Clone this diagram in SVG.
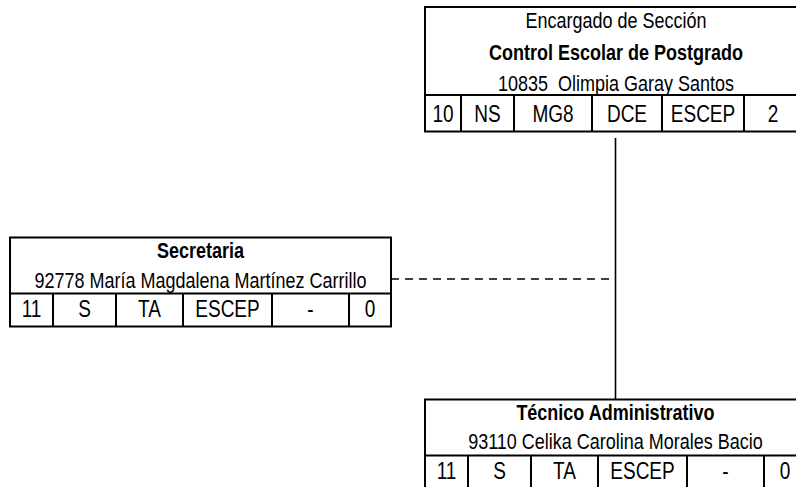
<svg xmlns="http://www.w3.org/2000/svg" width="796" height="487" viewBox="0 0 796 487">
<style>
.box{fill:#fff;stroke:#000;stroke-width:2}
.ln{stroke:#000;stroke-width:2;fill:none}
.t{font-family:"Liberation Sans",Arial,sans-serif;font-size:18px;fill:#000;text-anchor:middle}
.c{font-size:19px}
.b{font-weight:bold}
.con{stroke:#000;stroke-width:1.6;fill:none}
.dash{stroke-dasharray:8 6}
</style>
<rect width="796" height="487" fill="#fff"/>
<g id="connectors">
<line class="con" x1="615.5" y1="138" x2="615.5" y2="399"/>
<line class="con dash" x1="391" y1="279" x2="615.5" y2="279"/>
</g>
<g id="encargado">
<rect class="box" x="425" y="7" width="381" height="124.5"/>
<line class="ln" x1="425" y1="95" x2="806" y2="95"/>
<line class="ln" x1="461" y1="95" x2="461" y2="131.5"/>
<line class="ln" x1="514" y1="95" x2="514" y2="131.5"/>
<line class="ln" x1="592" y1="95" x2="592" y2="131.5"/>
<line class="ln" x1="662" y1="95" x2="662" y2="131.5"/>
<line class="ln" x1="744" y1="95" x2="744" y2="131.5"/>
<g transform="translate(0,28) scale(1,1.18)"><text class="t" x="616" y="0">Encargado de Sección</text></g>
<g transform="translate(0,60) scale(1,1.18)"><text class="t b" x="616" y="0">Control Escolar de Postgrado</text></g>
<g transform="translate(0,91) scale(1,1.18)"><text class="t" x="616" y="0" xml:space="preserve">10835  Olimpia Garay Santos</text></g>
<g transform="translate(0,122) scale(1,1.28)">
<text class="t c" x="443" y="0">10</text>
<text class="t c" x="487.5" y="0">NS</text>
<text class="t c" x="553" y="0">MG8</text>
<text class="t c" x="627" y="0">DCE</text>
<text class="t c" x="703" y="0">ESCEP</text>
<text class="t c" x="773" y="0">2</text>
</g>
</g>
<g id="secretaria">
<rect class="box" x="10" y="237.5" width="381" height="89"/>
<line class="ln" x1="10" y1="293.5" x2="391" y2="293.5"/>
<line class="ln" x1="53" y1="293.5" x2="53" y2="326.5"/>
<line class="ln" x1="116" y1="293.5" x2="116" y2="326.5"/>
<line class="ln" x1="183" y1="293.5" x2="183" y2="326.5"/>
<line class="ln" x1="272" y1="293.5" x2="272" y2="326.5"/>
<line class="ln" x1="349" y1="293.5" x2="349" y2="326.5"/>
<g transform="translate(0,258) scale(1,1.18)"><text class="t b" x="200.5" y="0">Secretaria</text></g>
<g transform="translate(0,288) scale(1,1.18)"><text class="t" x="200.5" y="0">92778 María Magdalena Martínez Carrillo</text></g>
<g transform="translate(0,317) scale(1,1.28)">
<text class="t c" x="31.5" y="0">11</text>
<text class="t c" x="84.5" y="0">S</text>
<text class="t c" x="149.5" y="0">TA</text>
<text class="t c" x="227.5" y="0">ESCEP</text>
<text class="t c" x="310.5" y="0">-</text>
<text class="t c" x="370" y="0">0</text>
</g>
</g>
<g id="tecnico">
<rect class="box" x="425" y="399.5" width="381" height="89"/>
<line class="ln" x1="425" y1="455.5" x2="806" y2="455.5"/>
<line class="ln" x1="468" y1="455.5" x2="468" y2="488.5"/>
<line class="ln" x1="531" y1="455.5" x2="531" y2="488.5"/>
<line class="ln" x1="598" y1="455.5" x2="598" y2="488.5"/>
<line class="ln" x1="687" y1="455.5" x2="687" y2="488.5"/>
<line class="ln" x1="764" y1="455.5" x2="764" y2="488.5"/>
<g transform="translate(0,420) scale(1,1.18)"><text class="t b" x="615.5" y="0">Técnico Administrativo</text></g>
<g transform="translate(0,449) scale(1,1.18)"><text class="t" x="615.5" y="0">93110 Celika Carolina Morales Bacio</text></g>
<g transform="translate(0,479) scale(1,1.28)">
<text class="t c" x="446.5" y="0">11</text>
<text class="t c" x="499.5" y="0">S</text>
<text class="t c" x="564.5" y="0">TA</text>
<text class="t c" x="642.5" y="0">ESCEP</text>
<text class="t c" x="725.5" y="0">-</text>
<text class="t c" x="785" y="0">0</text>
</g>
</g>
</svg>
